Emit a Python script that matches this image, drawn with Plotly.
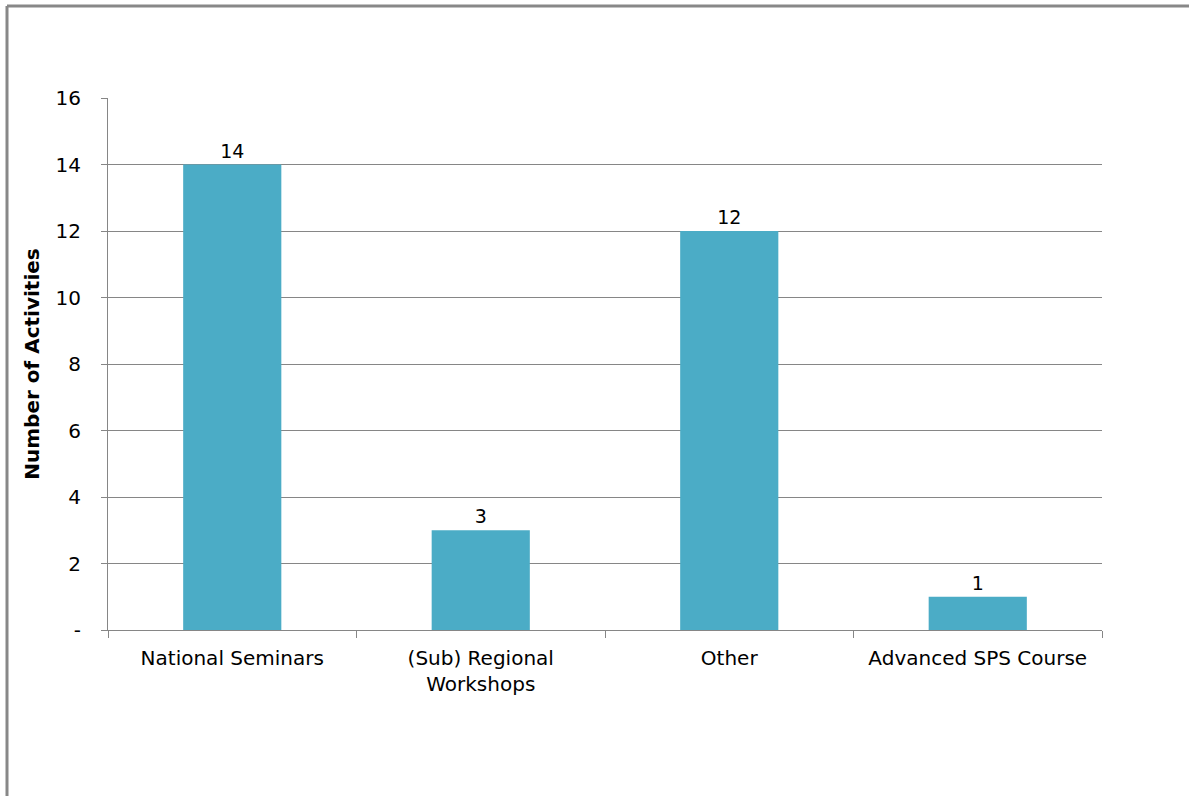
import plotly.graph_objects as go

categories = ["National Seminars", "(Sub) Regional<br>Workshops", "Other", "Advanced SPS Course"]
values = [14, 3, 12, 1]
y_tickvals = [0, 2, 4, 6, 8, 10, 12, 14, 16]
y_ticktext = ["-", "2", "4", "6", "8", "10", "12", "14", "16"]

W, H = 1189, 796
L, R, T, B = 108, 87, 98, 166
pw, ph = W - L - R, H - T - B

fig = go.Figure(go.Bar(
    x=categories, y=values,
    marker=dict(color="#4BACC6", line=dict(width=0)),
    text=[str(v) for v in values], textposition="outside",
    textfont=dict(family="DejaVu Sans", size=19, color="#000000"),
    cliponaxis=False,
))

fig.update_layout(
    width=W, height=H,
    margin=dict(l=L, r=R, t=T, b=B),
    paper_bgcolor="white", plot_bgcolor="white",
    bargap=0.605,
    font=dict(family="DejaVu Sans", size=20, color="#000000"),
    showlegend=False,
    xaxis=dict(
        type="category", showline=True, linecolor="#868686", linewidth=1,
        ticks="outside", tickson="boundaries", ticklen=7, tickcolor="#868686",
        showgrid=False, tickfont=dict(size=20), ticklabelstandoff=10,
    ),
    yaxis=dict(
        range=[0, 16], tickvals=y_tickvals, ticktext=y_ticktext,
        showline=True, linecolor="#868686", linewidth=1,
        ticks="outside", ticklen=6, tickcolor="#868686",
        showgrid=True, gridcolor="#868686", gridwidth=1,
        zeroline=False, ticklabelstandoff=16, tickfont=dict(size=20),
        title=dict(text="<b>Number of Activities</b>", font=dict(size=20), standoff=10),
    ),
    shapes=[
        dict(type="line", xref="paper", yref="paper",
             x0=(7 - L) / pw, x1=(W + 10 - L) / pw,
             y0=(H - B - 6) / ph, y1=(H - B - 6) / ph,
             line=dict(color="#888888", width=3)),
        dict(type="line", xref="paper", yref="paper",
             x0=(7 - L) / pw, x1=(7 - L) / pw,
             y0=(H - B - 6) / ph, y1=-(B + 10) / ph,
             line=dict(color="#888888", width=3)),
    ],
)

fig.write_html("out.html", config={"displayModeBar": False},
               post_script="document.body.style.margin='0px';")
